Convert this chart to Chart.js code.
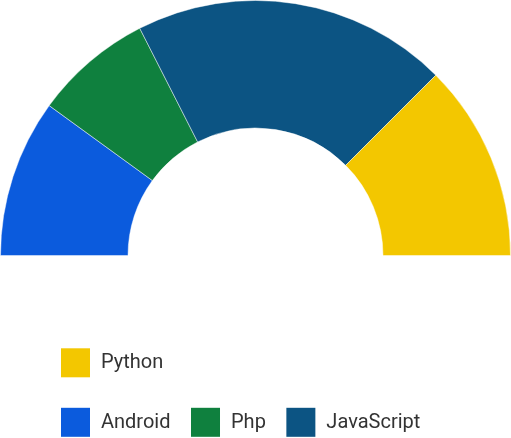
<!DOCTYPE html>
<html>
<head>
<meta charset="utf-8">
<script src="https://cdn.jsdelivr.net/npm/chart.js@4/dist/chart.umd.min.js"></script>
<style>
  html, body { margin: 0; padding: 0; background: #fff; }
  #wrap { width: 511px; height: 438px; position: relative; }
</style>
</head>
<body>
<div id="wrap"><canvas id="c"></canvas></div>
<script>
// ---- data ----
const categories = ['Android', 'Php', 'JavaScript', 'Python'];
const shares = [20, 15, 40, 25];
const sliceColors = ['#0B5BDD', '#0F803E', '#0C5483', '#F3C700'];
const legendRows = [['Python'], ['Android', 'Php', 'JavaScript']];

// custom legend drawn below the half doughnut
const rowLegend = {
  id: 'rowLegend',
  afterDraw(chart) {
    const ctx = chart.ctx;
    const labels = chart.data.labels;
    const colors = chart.data.datasets[0].backgroundColor;
    const box = 29, gapText = 11, gapItem = 20.5, left = 61;
    const baselines = [368.3, 427.8];
    ctx.save();
    ctx.font = '20px Roboto, "Noto Sans", sans-serif';
    ctx.textBaseline = 'alphabetic';
    legendRows.forEach((row, r) => {
      let x = left;
      const base = baselines[r];
      const boxTop = base - 20;
      row.forEach(name => {
        const i = labels.indexOf(name);
        ctx.fillStyle = colors[i];
        ctx.fillRect(x, boxTop, box, box);
        ctx.fillStyle = '#333';
        ctx.fillText(name, x + box + gapText, base);
        x += box + gapText + ctx.measureText(name).width + gapItem;
      });
    });
    ctx.restore();
  }
};

new Chart(document.getElementById('c'), {
  type: 'doughnut',
  data: {
    labels: categories,
    datasets: [{
      data: shares,
      backgroundColor: sliceColors,
      borderColor: 'rgba(255,255,255,0.45)',
      borderWidth: 1
    }]
  },
  options: {
    responsive: true,
    maintainAspectRatio: false,
    animation: false,
    rotation: -90,
    circumference: 180,
    cutout: '50%',
    layout: { padding: { top: 0, left: 0, right: 0, bottom: 182 } },
    plugins: {
      legend: { display: false },
      tooltip: { enabled: false }
    }
  },
  plugins: [rowLegend]
});
</script>
</body>
</html>
